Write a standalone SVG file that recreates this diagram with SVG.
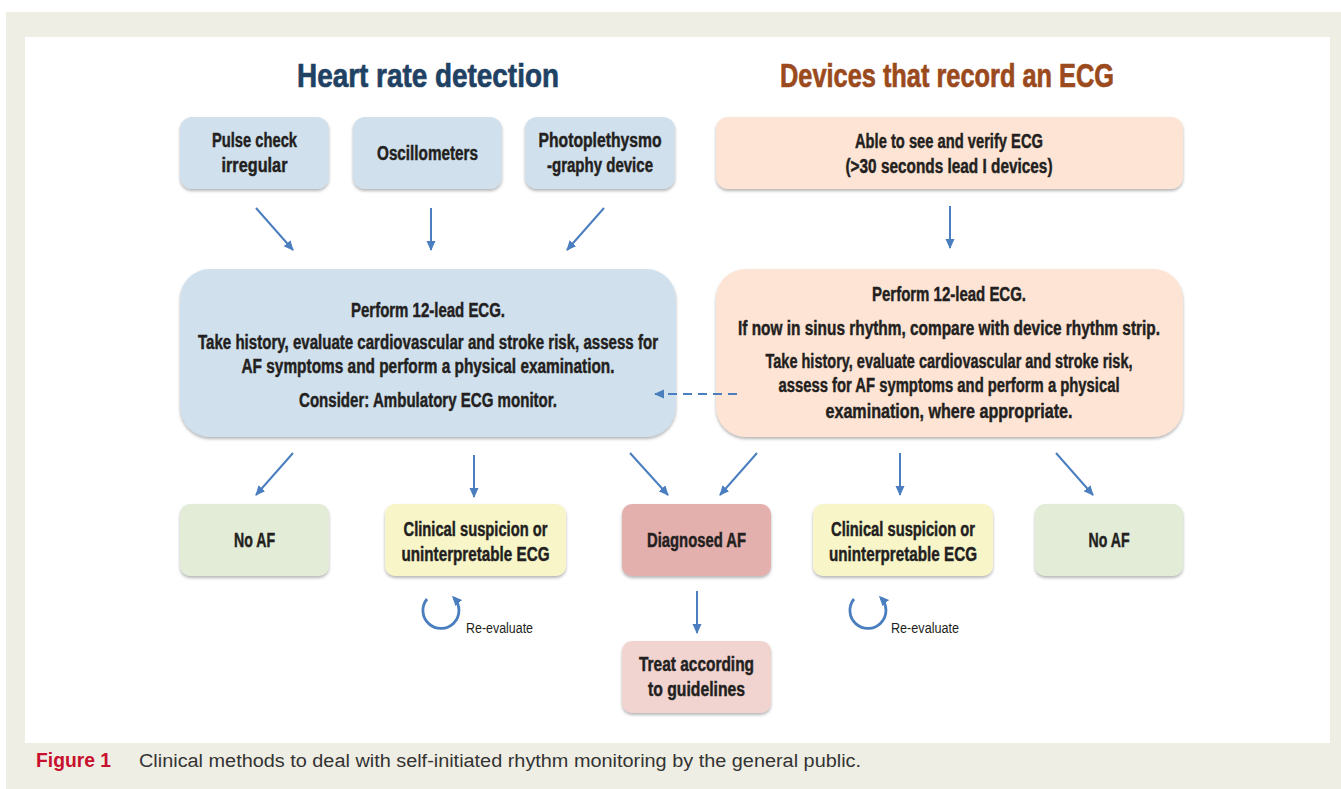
<svg xmlns="http://www.w3.org/2000/svg" width="1341" height="789" viewBox="0 0 1341 789">
<style>
.t{font-family:"Liberation Sans",Arial,sans-serif;font-weight:bold;font-size:19.5px;fill:#231f20;stroke:#231f20;stroke-width:0.45px;text-anchor:middle}
.h{font-family:"Liberation Sans",Arial,sans-serif;font-weight:bold;font-size:34px;stroke-width:0.7px;text-anchor:middle}
.ar{stroke:#4a7ebf;stroke-width:2;fill:none;marker-end:url(#ah)}
.rc{stroke:#4a7ebf;stroke-width:2.8;fill:none;marker-end:url(#ah2)}
.re{font-family:"Liberation Sans",Arial,sans-serif;font-size:14px;fill:#231f20}
.blue{fill:#d0e0ec}.peach{fill:#fde4d4}.green{fill:#e2ecd7}.yellow{fill:#f8f6c9}.red{fill:#e3b0ae}.pink{fill:#f1d3d0}
</style>
<defs>
<marker id="ah" markerUnits="userSpaceOnUse" markerWidth="11" markerHeight="10" refX="9" refY="4.5" orient="auto"><path d="M0,0 L10,4.5 L0,9 z" fill="#4a7ebf"/></marker>
<marker id="ah2" markerUnits="userSpaceOnUse" markerWidth="11" markerHeight="10" refX="7" refY="4.5" orient="auto"><path d="M0,0 L10,4.5 L0,9 z" fill="#4a7ebf"/></marker>
<filter id="sh" x="-10%" y="-10%" width="120%" height="130%"><feDropShadow dx="0" dy="2" stdDeviation="1.5" flood-color="#7a7a7a" flood-opacity="0.55"/></filter>
</defs>
<rect x="0" y="0" width="1341" height="789" fill="#ffffff"/>
<rect x="6" y="12" width="1335" height="777" fill="#efeee4"/>
<rect x="25" y="37" width="1305" height="706" fill="#ffffff"/>

<text class="h" x="428" y="87" fill="#1f4264" stroke="#1f4264" textLength="262" lengthAdjust="spacingAndGlyphs">Heart rate detection</text>
<text class="h" x="947" y="87" fill="#9b4a1d" stroke="#9b4a1d" textLength="334" lengthAdjust="spacingAndGlyphs">Devices that record an ECG</text>

<g id="pulse"><rect class="blue" filter="url(#sh)" x="180" y="117" width="149" height="72" rx="12"/>
<text class="t" x="254.5" y="147" textLength="85" lengthAdjust="spacingAndGlyphs">Pulse check</text>
<text class="t" x="254.5" y="172" textLength="66" lengthAdjust="spacingAndGlyphs">irregular</text></g>

<g id="osc"><rect class="blue" filter="url(#sh)" x="353" y="117" width="149" height="72" rx="12"/>
<text class="t" x="427.5" y="160" textLength="101" lengthAdjust="spacingAndGlyphs">Oscillometers</text></g>

<g id="ppg"><rect class="blue" filter="url(#sh)" x="525" y="117" width="150" height="72" rx="12"/>
<text class="t" x="600" y="147" textLength="123" lengthAdjust="spacingAndGlyphs">Photoplethysmo</text>
<text class="t" x="600" y="172" textLength="106" lengthAdjust="spacingAndGlyphs">-graphy device</text></g>

<g id="able"><rect class="peach" filter="url(#sh)" x="716" y="117" width="467" height="72" rx="12"/>
<text class="t" x="949" y="148" textLength="188" lengthAdjust="spacingAndGlyphs">Able to see and verify ECG</text>
<text class="t" x="949" y="173" textLength="207" lengthAdjust="spacingAndGlyphs">(&gt;30 seconds lead I devices)</text></g>

<g id="perform-left"><rect class="blue" filter="url(#sh)" x="180" y="269" width="496" height="168" rx="30"/>
<text class="t" x="428" y="317" textLength="154" lengthAdjust="spacingAndGlyphs">Perform 12-lead ECG.</text>
<text class="t" x="428" y="349" textLength="460" lengthAdjust="spacingAndGlyphs">Take history, evaluate cardiovascular and stroke risk, assess for</text>
<text class="t" x="428" y="373" textLength="373" lengthAdjust="spacingAndGlyphs">AF symptoms and perform a physical examination.</text>
<text class="t" x="428" y="407" textLength="258" lengthAdjust="spacingAndGlyphs">Consider: Ambulatory ECG monitor.</text></g>

<g id="perform-right"><rect class="peach" filter="url(#sh)" x="716" y="269" width="467" height="168" rx="30"/>
<text class="t" x="949" y="301" textLength="154" lengthAdjust="spacingAndGlyphs">Perform 12-lead ECG.</text>
<text class="t" x="949" y="335" textLength="422" lengthAdjust="spacingAndGlyphs">If now in sinus rhythm, compare with device rhythm strip.</text>
<text class="t" x="949" y="368" textLength="367" lengthAdjust="spacingAndGlyphs">Take history, evaluate cardiovascular and stroke risk,</text>
<text class="t" x="949" y="392" textLength="341" lengthAdjust="spacingAndGlyphs">assess for AF symptoms and perform a physical</text>
<text class="t" x="949" y="418" textLength="247" lengthAdjust="spacingAndGlyphs">examination, where appropriate.</text></g>

<g id="noaf-left"><rect class="green" filter="url(#sh)" x="180" y="504" width="149" height="72" rx="10"/>
<text class="t" x="254.5" y="547" textLength="41" lengthAdjust="spacingAndGlyphs">No AF</text></g>

<g id="clin-left"><rect class="yellow" filter="url(#sh)" x="385" y="504" width="181" height="72" rx="10"/>
<text class="t" x="475.5" y="536" textLength="144" lengthAdjust="spacingAndGlyphs">Clinical suspicion or</text>
<text class="t" x="475.5" y="561" textLength="148" lengthAdjust="spacingAndGlyphs">uninterpretable ECG</text></g>

<g id="diag"><rect class="red" filter="url(#sh)" x="622" y="504" width="149" height="72" rx="10"/>
<text class="t" x="696.5" y="547" textLength="99" lengthAdjust="spacingAndGlyphs">Diagnosed AF</text></g>

<g id="clin-right"><rect class="yellow" filter="url(#sh)" x="813" y="504" width="180" height="72" rx="10"/>
<text class="t" x="903" y="536" textLength="144" lengthAdjust="spacingAndGlyphs">Clinical suspicion or</text>
<text class="t" x="903" y="561" textLength="148" lengthAdjust="spacingAndGlyphs">uninterpretable ECG</text></g>

<g id="noaf-right"><rect class="green" filter="url(#sh)" x="1035" y="504" width="148" height="72" rx="10"/>
<text class="t" x="1109" y="547" textLength="41" lengthAdjust="spacingAndGlyphs">No AF</text></g>

<g id="treat"><rect class="pink" filter="url(#sh)" x="622" y="641" width="149" height="72" rx="10"/>
<text class="t" x="696.5" y="671" textLength="115" lengthAdjust="spacingAndGlyphs">Treat according</text>
<text class="t" x="696.5" y="696" textLength="97" lengthAdjust="spacingAndGlyphs">to guidelines</text></g>

<g id="reeval-left">
<path class="rc" d="M427,599 A18,18 0 1 0 454,598"/>
<text class="re" x="466" y="633" textLength="67" lengthAdjust="spacingAndGlyphs">Re-evaluate</text></g>
<g id="reeval-right">
<path class="rc" d="M854,599 A18,18 0 1 0 881,598"/>
<text class="re" x="891" y="633" textLength="68" lengthAdjust="spacingAndGlyphs">Re-evaluate</text></g>

<g id="connectors">
<line class="ar" x1="256" y1="208" x2="293" y2="250"/>
<line class="ar" x1="431" y1="208" x2="431" y2="250"/>
<line class="ar" x1="604" y1="208" x2="567" y2="250"/>
<line class="ar" x1="950" y1="206" x2="950" y2="248"/>
<line class="ar" x1="737" y1="394" x2="655" y2="394" stroke-dasharray="9 6"/>
<line class="ar" x1="293" y1="453" x2="256" y2="495"/>
<line class="ar" x1="474" y1="455" x2="474" y2="497"/>
<line class="ar" x1="630" y1="453" x2="668" y2="495"/>
<line class="ar" x1="757" y1="453" x2="720" y2="495"/>
<line class="ar" x1="900" y1="453" x2="900" y2="495"/>
<line class="ar" x1="1056" y1="453" x2="1093" y2="495"/>
<line class="ar" x1="697" y1="591" x2="697" y2="633"/>
</g>

<text x="36" y="767" font-family="'Liberation Sans',Arial,sans-serif" font-weight="bold" font-size="21" fill="#c8102e" textLength="75" lengthAdjust="spacingAndGlyphs">Figure 1</text>
<text x="139" y="767" font-family="'Liberation Sans',Arial,sans-serif" font-size="18" fill="#333333" textLength="722" lengthAdjust="spacingAndGlyphs">Clinical methods to deal with self-initiated rhythm monitoring by the general public.</text>
</svg>
